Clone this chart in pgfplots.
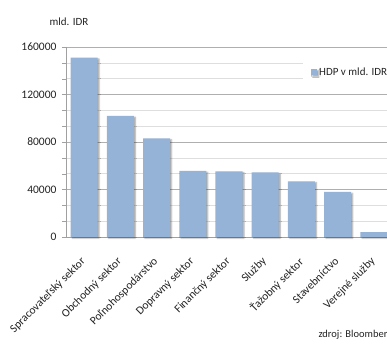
\documentclass[border=0pt]{standalone}
\usepackage{pgfplots}
\pgfplotsset{compat=1.18}
\usepackage{fontspec}
\setmainfont{Carlito}
\usetikzlibrary{shadows.blur}

\definecolor{barblue}{RGB}{149,179,215}
\definecolor{majgrid}{RGB}{175,175,175}
\definecolor{mingrid}{RGB}{222,222,222}
\definecolor{axgray}{RGB}{160,160,160}
\definecolor{txt}{RGB}{35,35,35}

\begin{document}
\begin{tikzpicture}[x=1pt,y=1pt]
% visible window of the figure (the plot runs past its right edge)
\path[use as bounding box, clip] (-66,-110) rectangle (321,237);
\begin{axis}[
  at={(0,0)}, anchor=south west,
  scale only axis, width=326pt, height=190pt,
  xmin=-0.5, xmax=8.5, ymin=0, ymax=160000,
  ybar, bar width=27pt,
  axis x line*=bottom, axis y line*=left,
  axis line style={axgray, -},
  xtick={0,...,8},
  xticklabels={Spracovateľský sektor, Obchodný sektor, Poľnohospodárstvo,
    Dopravný sektor, Finančný sektor, Služby, Ťažobný sektor,
    Stavebníctvo, Verejné služby},
  x tick style={draw=none},
  xticklabel style={xshift=-4pt, yshift=-15pt, rotate=45, anchor=north east,
    inner sep=0pt, font=\fontsize{11.5}{13}\selectfont, text=txt},
  ytick={0,40000,80000,120000,160000},
  yticklabels={0,40000,80000,120000,160000},
  minor y tick num=2,
  ymajorgrids, yminorgrids,
  major grid style={majgrid, line width=0.6pt},
  minor grid style={mingrid, line width=0.6pt},
  y tick style={axgray}, tick align=outside,
  major tick length=4pt, minor tick length=4pt,
  scaled y ticks=false,
  yticklabel style={font=\fontsize{11.5}{13}\selectfont, text=txt, xshift=-2pt},
  legend style={at={(rel axis cs:0.727,0.868)}, anchor=west, draw=none,
    fill=white, inner xsep=8pt, inner ysep=6pt,
    font=\fontsize{11}{13}\selectfont, text=txt},
  legend image code/.code={\fill[barblue] (0pt,-3pt) rectangle (6pt,3pt);},
  clip=false,
]
\addplot[fill=barblue, draw=none,
  blur shadow={shadow xshift=1.6pt, shadow yshift=-1.2pt,
    shadow opacity=35, shadow blur steps=4, shadow blur radius=1.2pt}]
  coordinates {(0,151000) (1,102000) (2,83000) (3,55600) (4,55300)
               (5,54500) (6,46900) (7,37900) (8,4200)};
\addlegendentry{HDP v mld. IDR}
\end{axis}
\node[font=\fontsize{11}{13}\selectfont, text=txt] at (3,215) {mld. IDR};
\node[font=\fontsize{10.5}{12}\selectfont, text=txt, anchor=west] at (249,-98) {zdroj: Bloomberg};
\end{tikzpicture}
\end{document}
